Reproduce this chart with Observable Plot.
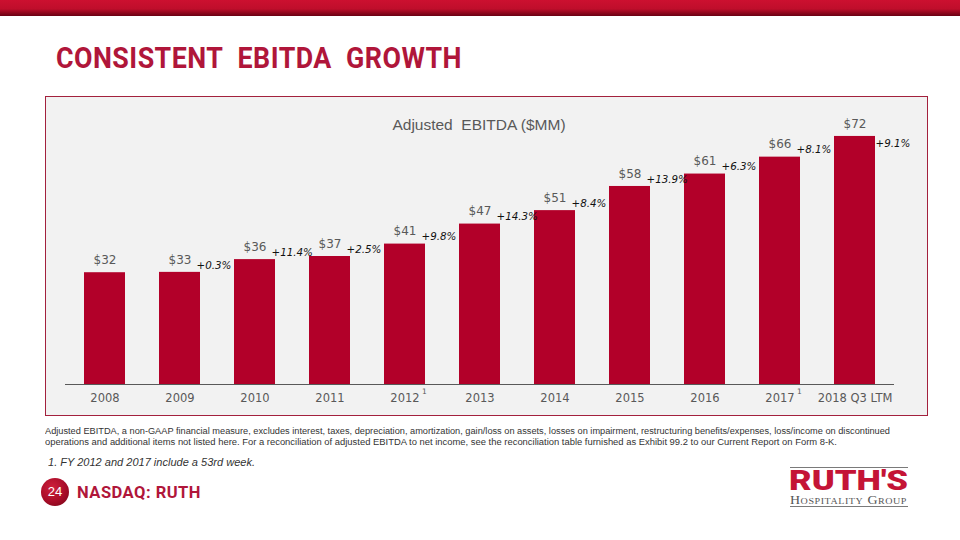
<!DOCTYPE html>
<html>
<head>
<meta charset="utf-8">
<script src="https://cdn.jsdelivr.net/npm/d3@7"></script>
<script src="https://cdn.jsdelivr.net/npm/@observablehq/plot@0.6"></script>
<style>
  html, body { margin: 0; padding: 0; background: #fff; }
  #page { position: relative; width: 960px; height: 540px; overflow: hidden; background: #fff; }
  .abs { position: absolute; white-space: nowrap; transform-origin: left center; }
</style>
</head>
<body>
<div id="page">
  <div class="abs" style="left:0;top:0;width:960px;height:16px;background:linear-gradient(to bottom,#cc1030 0%,#bf0e2b 55%,#6a0013 100%);"></div>
  <div class="abs fit" data-w="406" style="left:56px;top:44px;font-family:Roboto;font-weight:700;font-size:29px;line-height:29px;color:#b0163a;letter-spacing:0.5px;">CONSISTENT&nbsp; EBITDA&nbsp; GROWTH</div>

  <div class="abs" style="left:45px;top:96px;width:883px;height:320px;box-sizing:border-box;border:1px solid #a3213d;background:#f2f2f2;"></div>
  <div class="abs" style="left:0;top:116px;width:958px;text-align:center;font-family:'Liberation Sans';font-size:15.5px;line-height:18px;color:#595959;">Adjusted&nbsp; EBITDA ($MM)</div>
  <div id="chart" class="abs" style="left:0;top:96px;"></div>

  <div class="abs fit" data-w="845" style="left:45px;top:426px;font-family:'Liberation Sans';font-size:8.5px;line-height:11px;color:#333;">Adjusted EBITDA, a non-GAAP financial measure, excludes interest, taxes, depreciation, amortization, gain/loss on assets, losses on impairment, restructuring benefits/expenses, loss/income on discontinued</div>
  <div class="abs fit" data-w="792" style="left:45px;top:437px;font-family:'Liberation Sans';font-size:8.5px;line-height:11px;color:#333;">operations and additional items not listed here. For a reconciliation of adjusted EBITDA to net income, see the reconciliation table furnished as Exhibit 99.2 to our Current Report on Form 8-K.</div>
  <div class="abs fit" data-w="207" style="left:48px;top:455px;font-family:'Liberation Sans';font-style:italic;font-size:11px;line-height:14px;color:#333;">1. FY 2012 and 2017 include a 53rd week.</div>

  <div class="abs" style="left:41px;top:478px;width:28px;height:28px;border-radius:50%;background:radial-gradient(circle at 40% 35%,#d0203c 0%,#a80c28 55%,#6e0616 100%);color:#fff;font-family:'Liberation Sans';font-size:13px;line-height:28px;text-align:center;">24</div>
  <div class="abs fit" data-w="124" style="left:77px;top:482px;font-family:Roboto;font-weight:700;font-size:17px;line-height:20px;color:#b0163a;letter-spacing:0.5px;">NASDAQ: RUTH</div>

  <div class="abs" style="left:790px;top:467px;width:118px;height:1px;background:#7a7a7a;"></div>
  <div class="abs fit" data-w="119" style="left:789px;top:470px;font-family:Roboto;font-weight:900;font-size:28px;line-height:21px;color:#c41436;">RUTH'S</div>
  <div class="abs fit" data-w="117" style="left:790px;top:494px;font-family:'Liberation Serif';font-variant:small-caps;font-size:12.5px;line-height:12px;color:#555;letter-spacing:0.5px;">Hospitality Group</div>
  <div class="abs" style="left:790px;top:506px;width:118px;height:1px;background:#7a7a7a;"></div>
</div>
<script>
const years = ["2008", "2009", "2010", "2011", "2012", "2013", "2014", "2015", "2016", "2017", "2018 Q3 LTM"];
const ebitda = [32.4, 32.5, 36.2, 37.1, 40.7, 46.5, 50.4, 57.4, 61.0, 65.9, 71.9];
const valueLabels = ["$32", "$33", "$36", "$37", "$41", "$47", "$51", "$58", "$61", "$66", "$72"];
const growthLabels = ["", "+0.3%", "+11.4%", "+2.5%", "+9.8%", "+14.3%", "+8.4%", "+13.9%", "+6.3%", "+8.1%", "+9.1%"];
const footnoteMarks = ["", "", "", "", "1", "", "", "", "", "1", ""];

const data = years.map((year, i) => ({
  year, value: ebitda[i], label: valueLabels[i], growth: growthLabels[i], note: footnoteMarks[i], last: i === years.length - 1
}));

const barColor = "#b20029";
const gray = "#595959";

const chart = Plot.plot({
  width: 960,
  height: 320,
  marginLeft: 65,
  marginRight: 66,
  marginTop: 12,
  marginBottom: 32,
  style: { background: "transparent", fontFamily: "'DejaVu Sans', Verdana, sans-serif", overflow: "visible" },
  x: { domain: years, paddingInner: 0.456, paddingOuter: 0.24, label: null },
  y: { domain: [0, 80], axis: null },
  marks: [
    Plot.barY(data, { x: "year", y: "value", fill: barColor }),
    Plot.ruleY([0], { stroke: gray, strokeWidth: 1 }),
    Plot.axisX({ tickSize: 0, tickPadding: 9, fontSize: 11.5, fill: gray, label: null }),
    Plot.text(data.filter(d => d.note), { x: "year", y: 0, text: "note", dx: 17, dy: 7, textAnchor: "start", fontSize: 7.5, fill: gray }),
    Plot.text(data, { x: "year", y: "value", text: "label", dy: -12.5, fontSize: 12, fill: gray }),
    Plot.text(data.filter(d => d.growth && !d.last), { x: "year", y: "value", text: "growth", dx: 16.5, dy: -7, textAnchor: "start", fontSize: 10.3, fontStyle: "italic", fill: "#111" }),
    Plot.text(data.filter(d => d.growth && d.last), { x: "year", y: "value", text: "growth", dx: 20.5, dy: 7, textAnchor: "start", fontSize: 10.3, fontStyle: "italic", fill: "#111" })
  ]
});
document.getElementById("chart").appendChild(chart);

function fit() {
  document.querySelectorAll(".fit").forEach(el => {
    el.style.transform = "none";
    const w = el.getBoundingClientRect().width;
    const target = +el.dataset.w;
    if (w > 0) el.style.transform = `scaleX(${target / w})`;
  });
}
document.querySelectorAll(".fit").forEach(el => { el.style.width = "auto"; el.style.display = "inline-block"; });
fit();
if (document.fonts && document.fonts.ready) document.fonts.ready.then(fit);
</script>
</body>
</html>
